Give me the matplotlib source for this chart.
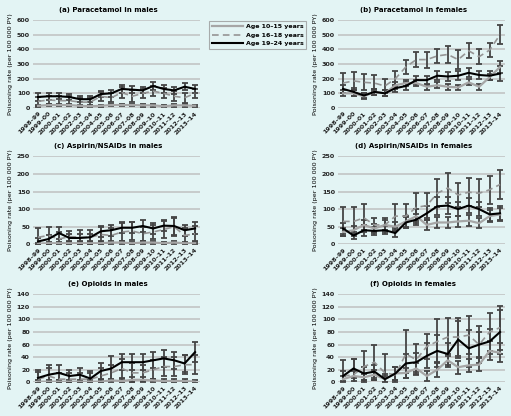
import numpy as np
import matplotlib.pyplot as plt
from matplotlib.lines import Line2D

years = ['1998–99', '1999–00', '2000–01', '2001–02', '2002–03', '2003–04', '2004–05', '2005–06',
         '2006–07', '2007–08', '2008–09', '2009–10', '2010–11', '2011–12', '2012–13', '2013–14']
series_labels = ['Age 10–15 years', 'Age 16–18 years', 'Age 19–24 years']

# (a) Paracetamol in males
para_m_1015 = [15, 20, 20, 20, 15, 12, 15, 20, 20, 20, 18, 18, 12, 18, 18, 15]
para_m_1618 = [45, 55, 50, 50, 40, 40, 80, 70, 105, 80, 100, 115, 100, 80, 70, 100]
para_m_1924 = [75, 80, 80, 75, 60, 60, 95, 100, 130, 125, 120, 150, 130, 120, 145, 130]
para_m_1015_err = [8, 8, 8, 8, 8, 7, 7, 8, 8, 8, 8, 8, 7, 8, 8, 8]
para_m_1618_err = [30, 30, 30, 30, 30, 28, 30, 30, 40, 40, 30, 35, 35, 35, 35, 30]
para_m_1924_err = [25, 25, 20, 20, 20, 20, 20, 25, 25, 25, 20, 25, 25, 25, 25, 25]

# (b) Paracetamol in females
para_f_1015 = [100, 100, 80, 110, 100, 155, 170, 170, 145, 155, 145, 140, 175, 145, 210, 280]
para_f_1618 = [170, 185, 175, 170, 150, 200, 280, 330, 330, 355, 365, 330, 390, 350, 395, 500]
para_f_1924 = [130, 110, 85, 110, 100, 135, 150, 190, 190, 220, 215, 220, 240, 225, 220, 235]
para_f_1015_err = [20, 20, 20, 20, 20, 25, 20, 20, 20, 20, 20, 20, 20, 20, 20, 40]
para_f_1618_err = [70, 60, 55, 55, 50, 55, 45, 50, 55, 50, 55, 65, 50, 50, 50, 65]
para_f_1924_err = [30, 25, 20, 20, 20, 25, 25, 25, 30, 30, 30, 30, 30, 30, 30, 50]

# (c) Aspirin/NSAIDs in males
nsaid_m_1015 = [2, 3, 3, 3, 3, 3, 3, 5, 5, 3, 5, 5, 3, 5, 3, 3]
nsaid_m_1618 = [20, 25, 15, 22, 20, 20, 28, 25, 35, 38, 30, 35, 42, 50, 25, 30]
nsaid_m_1924 = [8, 15, 32, 18, 18, 20, 37, 40, 47, 47, 52, 45, 53, 52, 40, 45]
nsaid_m_1015_err = [3, 3, 3, 3, 3, 3, 3, 4, 4, 3, 4, 4, 3, 4, 3, 3]
nsaid_m_1618_err = [25, 25, 20, 15, 20, 20, 20, 20, 25, 25, 20, 20, 25, 25, 22, 22]
nsaid_m_1924_err = [10, 12, 18, 10, 10, 10, 15, 15, 15, 15, 17, 15, 15, 25, 15, 17]

# (d) Aspirin/NSAIDs in females
nsaid_f_1015 = [35, 40, 55, 45, 55, 50, 65, 80, 55, 62, 62, 65, 67, 60, 80, 85]
nsaid_f_1618 = [65, 65, 75, 55, 55, 80, 80, 105, 110, 145, 160, 140, 148, 145, 155, 170]
nsaid_f_1924 = [45, 25, 40, 38, 40, 32, 62, 70, 88, 108, 110, 100, 110, 100, 85, 88]
nsaid_f_1015_err = [10, 12, 15, 12, 15, 12, 15, 20, 15, 15, 15, 15, 15, 15, 18, 18]
nsaid_f_1618_err = [40, 40, 40, 20, 20, 35, 35, 40, 35, 40, 42, 35, 40, 40, 40, 42]
nsaid_f_1924_err = [15, 10, 15, 12, 12, 10, 15, 15, 20, 25, 25, 20, 22, 20, 18, 20]

# (e) Opioids in males
opi_m_1015 = [1, 1, 1, 1, 1, 1, 1, 3, 2, 4, 4, 3, 2, 2, 2, 1]
opi_m_1618 = [5, 10, 5, 5, 5, 5, 10, 15, 22, 15, 15, 20, 25, 25, 28, 28]
opi_m_1924 = [7, 12, 15, 10, 12, 6, 18, 22, 32, 32, 32, 35, 38, 35, 30, 48]
opi_m_1015_err = [2, 2, 2, 2, 2, 2, 2, 3, 3, 4, 4, 3, 3, 3, 3, 2]
opi_m_1618_err = [12, 12, 10, 10, 10, 10, 12, 12, 15, 15, 13, 15, 15, 15, 15, 15]
opi_m_1924_err = [12, 15, 12, 10, 10, 12, 12, 20, 13, 13, 13, 13, 14, 14, 13, 16]

# (f) Opioids in females
opi_f_1015 = [5, 10, 8, 12, 5, 14, 15, 22, 10, 20, 35, 24, 27, 28, 50, 47]
opi_f_1618 = [10, 12, 25, 32, 15, 12, 45, 36, 57, 65, 72, 72, 75, 60, 80, 87]
opi_f_1924 = [10, 22, 14, 17, 5, 14, 30, 32, 42, 50, 45, 68, 54, 60, 65, 80]
opi_f_1015_err = [5, 8, 5, 8, 5, 10, 8, 8, 8, 12, 10, 10, 10, 10, 15, 15]
opi_f_1618_err = [25, 25, 25, 28, 30, 12, 38, 25, 20, 35, 30, 30, 30, 30, 30, 35]
opi_f_1924_err = [8, 15, 10, 10, 8, 10, 15, 15, 20, 25, 18, 30, 30, 20, 20, 35]

bg = '#e3f4f4'
plt.rcParams['font.family'] = ['DejaVu Sans']
plt.rcParams['font.weight'] = 'bold'

fig = plt.figure(figsize=(5.11, 4.16), dpi=100, facecolor=bg)

panels = [
    ('(a) Paracetamol in males', [para_m_1015, para_m_1618, para_m_1924],
     [para_m_1015_err, para_m_1618_err, para_m_1924_err], 600, 100),
    ('(b) Paracetamol in females', [para_f_1015, para_f_1618, para_f_1924],
     [para_f_1015_err, para_f_1618_err, para_f_1924_err], 600, 100),
    ('(c) Aspirin/NSAIDs in males', [nsaid_m_1015, nsaid_m_1618, nsaid_m_1924],
     [nsaid_m_1015_err, nsaid_m_1618_err, nsaid_m_1924_err], 250, 50),
    ('(d) Aspirin/NSAIDs in females', [nsaid_f_1015, nsaid_f_1618, nsaid_f_1924],
     [nsaid_f_1015_err, nsaid_f_1618_err, nsaid_f_1924_err], 250, 50),
    ('(e) Opioids in males', [opi_m_1015, opi_m_1618, opi_m_1924],
     [opi_m_1015_err, opi_m_1618_err, opi_m_1924_err], 140, 20),
    ('(f) Opioids in females', [opi_f_1015, opi_f_1618, opi_f_1924],
     [opi_f_1015_err, opi_f_1618_err, opi_f_1924_err], 140, 20),
]

lefts = [32.8 / 511, 337.8 / 511]
bottoms = [1 - 108 / 416, 1 - 244.3 / 416, 1 - 382.3 / 416]
w = 167.5 / 511
h = 88 / 416

styles = [dict(color='#a6a6a6', ls='-', lw=1.6),
          dict(color='#959595', ls=(0, (4, 2.5)), lw=1.2),
          dict(color='black', ls='-', lw=1.5)]

x = np.arange(len(years))
for i, (title, vals, errs, ymax, step) in enumerate(panels):
    ax = fig.add_axes([lefts[i % 2], bottoms[i // 2], w, h])
    ax.set_facecolor(bg)
    for s in ax.spines.values():
        s.set_visible(False)
    ax.set_ylim(0, ymax)
    ax.set_xlim(-0.5, len(years) - 0.5)
    ax.set_yticks(np.arange(0, ymax + 1, step))
    ax.yaxis.grid(True, color='#c4c8c8', lw=1.3, zorder=0)
    ax.set_axisbelow(True)
    for v, e in zip(vals, errs):
        ax.errorbar(x, v, yerr=e, fmt='none', ecolor='#454545', elinewidth=1.3,
                    capsize=2.3, capthick=1.3, zorder=2)
    for v, st in zip(vals, styles):
        ax.plot(x, v, zorder=3, **st)
    ax.set_xticks(x)
    ax.set_xticklabels(years, rotation=45, ha='right', rotation_mode='anchor', fontsize=4.3)
    ax.tick_params(axis='both', length=0, pad=2, labelsize=4.6, colors='#222222')
    ax.set_ylabel('Poisoning rate (per 100 000 PY)', fontsize=4.6, labelpad=3)
    ax.set_title(title, fontsize=5.0, x=0.45, pad=6, fontweight='bold')

handles = [Line2D([], [], **st) for st in styles]
leg = fig.legend(handles, series_labels, loc='upper left', bbox_to_anchor=(206 / 511, 1 - 18 / 416),
                 fontsize=4.5, frameon=True, fancybox=False, edgecolor='#999999',
                 facecolor=bg, handlelength=5.0, borderpad=0.45, labelspacing=0.5, handletextpad=0.4)
leg.get_frame().set_linewidth(0.8)

fig.savefig('out.png', dpi=100, facecolor=bg)
